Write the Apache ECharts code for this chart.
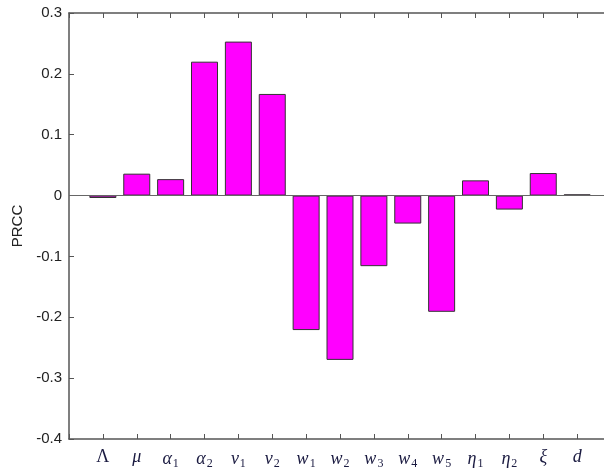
<!DOCTYPE html>
<html>
<head>
<meta charset="utf-8">
<script src="https://cdn.jsdelivr.net/npm/echarts@6/dist/echarts.min.js"></script>
<style>html,body{margin:0;padding:0;background:#fff}#c{width:604px;height:470px}</style>
</head>
<body>
<div id="c"></div>
<script>
// Parameter labels: [main symbol, subscript]
var paramNames = [['Λ',''],['μ',''],['α','1'],['α','2'],['v','1'],['v','2'],['w','1'],['w','2'],['w','3'],['w','4'],['w','5'],['η','1'],['η','2'],['ξ',''],['d','']];
var prccValues = [-0.004, 0.036, 0.027, 0.220, 0.253, 0.167, -0.221, -0.270, -0.116, -0.046, -0.191, 0.025, -0.023, 0.037, 0.002];
var yTicks = [-0.4, -0.3, -0.2, -0.1, 0, 0.1, 0.2, 0.3];

var barData = prccValues.map(function(v, i){ return [i + 1, v]; });

var chart = echarts.init(document.getElementById('c'), null, {renderer: 'canvas'});
var axisColor = '#555';
chart.setOption({
  animation: false,
  grid: {left: 69, top: 13, bottom: 31, width: 542, containLabel: false, outerBoundsMode: 'none'},
  xAxis: [{
    type: 'value', min: 0, max: 16, interval: 1, position: 'bottom',
    axisLine: {onZero: false, lineStyle: {color: axisColor, width: 1.5}},
    axisTick: {inside: true, length: 5, lineStyle: {color: axisColor}},
    splitLine: {show: false},
    axisLabel: {
      margin: 9,
      formatter: function(val){
        var idx = Math.round(val) - 1;
        if (idx < 0 || idx >= paramNames.length) return '';
        var p = paramNames[idx];
        var main = idx === 0 ? '{u|' + p[0] + '}' : '{i|' + p[0] + '}';
        return p[1] ? main + '{s|' + p[1] + '}' : main;
      },
      rich: {
        u: {fontFamily: 'Liberation Serif', fontSize: 18, color: '#1a1a40'},
        i: {fontFamily: 'Liberation Serif', fontStyle: 'italic', fontSize: 18, color: '#1a1a40'},
        s: {fontFamily: 'Liberation Serif', fontSize: 12, color: '#1a1a40', padding: [10, 0, 0, 1]}
      }
    }
  }, {
    type: 'value', min: 0, max: 16, interval: 1, position: 'top',
    axisLine: {onZero: false, lineStyle: {color: axisColor, width: 1.5}},
    axisTick: {inside: true, length: 5, lineStyle: {color: axisColor}},
    axisLabel: {show: false}, splitLine: {show: false}
  }],
  yAxis: [{
    type: 'value', min: yTicks[0], max: yTicks[yTicks.length - 1], interval: 0.1,
    name: 'PRCC', nameLocation: 'middle', nameGap: 44, nameRotate: 90,
    nameTextStyle: {fontFamily: 'Liberation Sans', fontSize: 15, color: '#222'},
    axisLine: {onZero: false, lineStyle: {color: axisColor, width: 1.5}},
    axisTick: {inside: true, length: 5, lineStyle: {color: axisColor}},
    splitLine: {show: false},
    axisLabel: {
      margin: 7, fontFamily: 'Liberation Sans', fontSize: 15, color: '#222',
      formatter: function(v){ var r = Math.round(v * 10) / 10; return r === 0 ? '0' : r.toFixed(1); }
    }
  }, {
    type: 'value', min: yTicks[0], max: yTicks[yTicks.length - 1], interval: 0.1, position: 'right',
    axisLine: {onZero: false, lineStyle: {color: axisColor, width: 1.5}},
    axisTick: {inside: true, length: 5, lineStyle: {color: axisColor}},
    axisLabel: {show: false}, splitLine: {show: false}
  }],
  series: [{
    type: 'bar', xAxisIndex: 0, yAxisIndex: 0,
    data: barData, barWidth: 27,
    itemStyle: {color: '#ff00ff', borderColor: '#333', borderWidth: 1},
    markLine: {
      silent: true, symbol: 'none', label: {show: false},
      lineStyle: {color: '#666', type: 'solid', width: 1.2},
      data: [{yAxis: 0}]
    }
  }]
});
</script>
</body>
</html>
